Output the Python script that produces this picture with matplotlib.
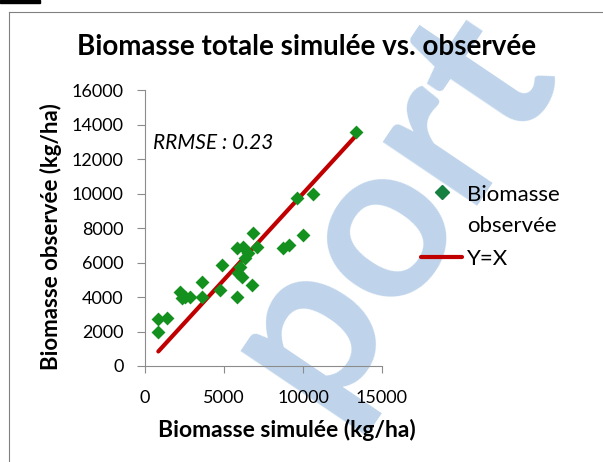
import numpy as np
import matplotlib
matplotlib.use("Agg")
import matplotlib.pyplot as plt
from matplotlib.lines import Line2D

plt.rcParams['font.family'] = ['Lato', 'DejaVu Sans']

simulee = [13335, 9641, 10654, 10021, 8755, 9135, 6857, 7110, 6224, 5802,
           6540, 6329, 4852, 6013, 5907, 6118, 6750, 4747, 5802, 3586,
           3586, 2848, 2321, 2215, 2500, 844, 1370, 844]
observee = [13583, 9720, 9952, 7594, 6820, 7014, 7690, 6918, 6918, 6821,
            6532, 6242, 5855, 5758, 5372, 5179, 4696, 4406, 4019, 4888,
            4019, 4019, 3923, 4309, 4000, 2705, 2763, 1951]
yx = [844, 13300]

xticks = [0, 5000, 10000, 15000]
yticks = list(range(0, 16001, 2000))
legend_labels = ['Biomasse', 'observée', 'Y=X']

green = '#14901e'
red = '#c00000'
grey = '#8c8c8c'

W, H = 603, 462
fig = plt.figure(figsize=(W / 100, H / 100), dpi=100)


def fx(px):
    return px / W


def fy(py):
    return 1 - py / H


# watermark behind the chart
fig.text(fx(387), fy(206), 'port', color='#bfd4eb', fontsize=160,
         fontweight='bold', rotation=56, ha='center', va='center', zorder=-5)

# frame of the chart area and the small black bar of the page
fig.add_artist(Line2D([fx(9), fx(9)], [0, fy(12)], color='#808080', lw=0.8))
fig.add_artist(Line2D([fx(9), 1], [fy(12), fy(12)], color='#808080', lw=0.8))
fig.add_artist(plt.Rectangle((0, fy(3)), fx(40), 3 / H, color='black',
                             transform=fig.transFigure))

ax = fig.add_axes([fx(145), fy(366), (382 - 145) / W, (366 - 90) / H])
ax.patch.set_alpha(0)

ax.plot(yx, yx, color=red, lw=3, solid_capstyle='round', zorder=2)
ax.scatter(simulee, observee, marker='D', s=50, color=green, zorder=3, linewidths=0)

ax.set_xlim(0, 15000)
ax.set_ylim(0, 16000)
ax.set_xticks(xticks)
ax.set_yticks(yticks)
ax.tick_params(labelsize=13, colors=grey, labelcolor='black', length=6, width=0.8)
ax.tick_params(axis='y', pad=9.5)
ax.tick_params(axis='x', length=5, pad=12)
for s in ['top', 'right']:
    ax.spines[s].set_visible(False)
for s in ['left', 'bottom']:
    ax.spines[s].set_color(grey)
    ax.spines[s].set_linewidth(0.8)

ax.set_xlabel('Biomasse simulée (kg/ha)', fontsize=16.5, fontweight='bold')
ax.set_ylabel('Biomasse observée (kg/ha)', fontsize=16, fontweight='bold')
ax.xaxis.set_label_coords((287 - 145) / 237, -(419 - 366) / 276)
ax.yaxis.set_label_coords(-(145 - 62) / 237, (366 - 237) / 276)

fig.text(fx(307), fy(55), 'Biomasse totale simulée vs. observée',
         fontsize=20, fontweight='bold', ha='center', va='baseline')
ax.text((153 - 145) / 237, (366 - 143) / 276, 'RRMSE : 0.23', transform=ax.transAxes,
        fontsize=15, style='italic', va='center')

# legend, drawn by hand to keep Excel's layout
fig.add_artist(Line2D([fx(442)], [fy(192)], marker='D', color='#168040',
                      markersize=7.5, ls='none'))
fig.add_artist(Line2D([fx(421), fx(462)], [fy(257), fy(257)], color=red, lw=3,
                      solid_capstyle='round'))
for lab, py in zip(legend_labels, [193, 224, 257]):
    fig.text(fx(467), fy(py), lab, fontsize=16, va='center_baseline')

fig.savefig('out.png', dpi=100)
